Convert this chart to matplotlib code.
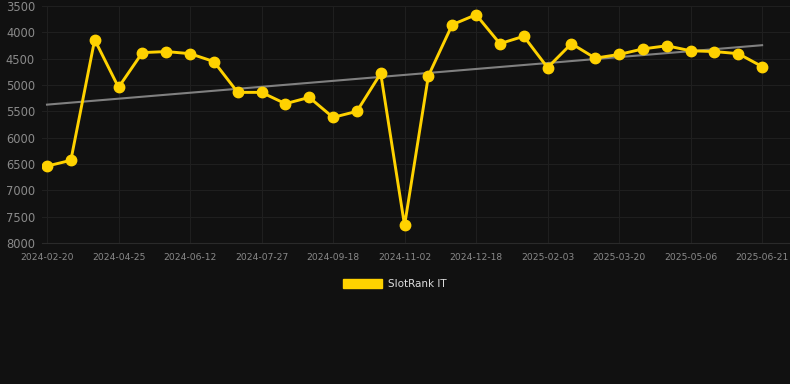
import numpy as np
import matplotlib
matplotlib.use("Agg")
import matplotlib.pyplot as plt
from matplotlib.patches import Patch

# rank per sample (lower is better)
ranks = [6540, 6430, 4140, 5045, 4385, 4365, 4405, 4555, 5140, 5140,
         5355, 5235, 5615, 5500, 4780, 7665, 4825, 3855, 3665, 4215,
         4075, 4670, 4215, 4490, 4420, 4315, 4255, 4350, 4365, 4405,
         4650]
tick_labels = ["2024-02-20", "2024-04-25", "2024-06-12", "2024-07-27",
               "2024-09-18", "2024-11-02", "2024-12-18", "2025-02-03",
               "2025-03-20", "2025-05-06", "2025-06-21"]
y_ticks = [3500, 4000, 4500, 5000, 5500, 6000, 6500, 7000, 7500, 8000]
series_name = "SlotRank IT"

bg = "#111111"
gold = "#FFD200"
grid_c = "#1f1f1f"
txt_c = "#8a8a8a"

fig = plt.figure(figsize=(7.9, 3.84), dpi=100, facecolor=bg)
ax = fig.add_axes([42 / 790, 1 - 243 / 384, 1 - 42 / 790, (243 - 6) / 384])
ax.set_facecolor(bg)

x = np.arange(len(ranks))
y = np.array(ranks)

# trend line (least squares)
k, b = np.polyfit(x, y, 1)
ax.plot(x, k * x + b, color="#808080", lw=1.5, zorder=2)

ax.plot(x, y, color=gold, lw=2.1, marker="o", ms=7.5, zorder=3)

ax.set_ylim(8000, 3500)
ax.set_yticks(y_ticks)
ax.set_xlim(-0.21, 31.17)
ax.set_xticks(x[::3])
ax.set_xticklabels(tick_labels)

ax.grid(True, color=grid_c, lw=0.8)
ax.set_axisbelow(True)
for s in ax.spines.values():
    s.set_visible(False)
ax.spines["bottom"].set_visible(True)
ax.spines["bottom"].set_color("#2a2a2a")
ax.spines["bottom"].set_linewidth(0.8)
ax.tick_params(axis="both", length=0, colors=txt_c)
ax.tick_params(axis="y", labelsize=8.3, pad=5)
ax.tick_params(axis="x", labelsize=6.6, pad=7)

fig.legend(handles=[Patch(facecolor=gold, edgecolor=gold)], labels=[series_name],
           loc="center", bbox_to_anchor=(0.5, 1 - 284 / 384), frameon=False,
           fontsize=7.5, labelcolor="#dddddd", handlelength=3.75, handleheight=1.05,
           handletextpad=0.6)

fig.savefig("out.png", dpi=100, facecolor=bg)
